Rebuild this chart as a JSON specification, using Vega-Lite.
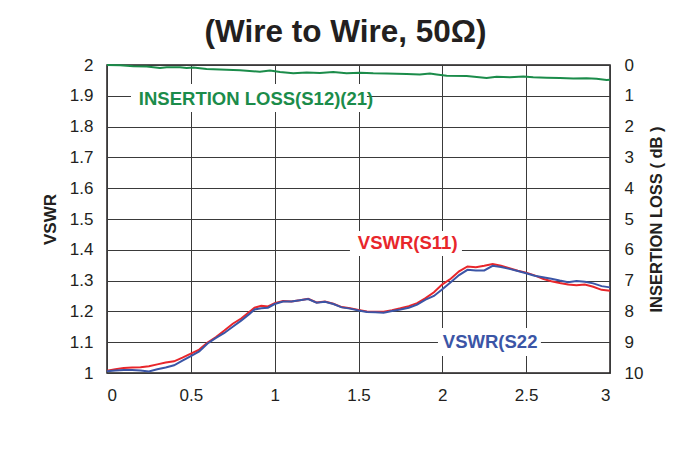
{
  "$schema": "https://vega.github.io/schema/vega-lite/v6.json",
  "width": 503,
  "height": 308,
  "autosize": {"type": "none"},
  "padding": {"left": 107, "top": 65, "right": 77, "bottom": 80},
  "background": "white",
  "title": {"text": "(Wire to Wire, 50Ω)", "font": "Liberation Sans", "fontSize": 31.5, "fontWeight": "bold", "color": "#231f20", "anchor": "middle", "frame": "group", "dx": -13, "offset": 8},
  "config": {
    "view": {"stroke": "#231f20", "strokeWidth": 1.5},
    "axis": {"labelFont": "Liberation Sans", "labelFontSize": 17, "labelColor": "#231f20", "titleFont": "Liberation Sans", "titleFontWeight": "bold", "titleColor": "#231f20", "domain": false, "ticks": false, "gridColor": "#3a3a3a", "gridWidth": 1, "gridOpacity": 1, "labelOverlap": false}
  },
  "datasets": {
    "vswr": [
      {"f":0,"v":1.007,"s":"S11"},{"f":0.05,"v":1.012,"s":"S11"},{"f":0.1,"v":1.016,"s":"S11"},{"f":0.15,"v":1.018,"s":"S11"},{"f":0.2,"v":1.019,"s":"S11"},{"f":0.25,"v":1.022,"s":"S11"},{"f":0.3,"v":1.028,"s":"S11"},{"f":0.35,"v":1.034,"s":"S11"},{"f":0.4,"v":1.038,"s":"S11"},{"f":0.45,"v":1.05,"s":"S11"},{"f":0.5,"v":1.063,"s":"S11"},{"f":0.55,"v":1.076,"s":"S11"},{"f":0.6,"v":1.099,"s":"S11"},{"f":0.65,"v":1.117,"s":"S11"},{"f":0.7,"v":1.138,"s":"S11"},{"f":0.75,"v":1.16,"s":"S11"},{"f":0.8,"v":1.177,"s":"S11"},{"f":0.85,"v":1.199,"s":"S11"},{"f":0.88,"v":1.212,"s":"S11"},{"f":0.92,"v":1.218,"s":"S11"},{"f":0.96,"v":1.216,"s":"S11"},{"f":1.0,"v":1.227,"s":"S11"},{"f":1.05,"v":1.234,"s":"S11"},{"f":1.1,"v":1.232,"s":"S11"},{"f":1.15,"v":1.236,"s":"S11"},{"f":1.2,"v":1.241,"s":"S11"},{"f":1.25,"v":1.229,"s":"S11"},{"f":1.3,"v":1.232,"s":"S11"},{"f":1.35,"v":1.225,"s":"S11"},{"f":1.4,"v":1.214,"s":"S11"},{"f":1.45,"v":1.21,"s":"S11"},{"f":1.5,"v":1.205,"s":"S11"},{"f":1.55,"v":1.2,"s":"S11"},{"f":1.6,"v":1.199,"s":"S11"},{"f":1.65,"v":1.199,"s":"S11"},{"f":1.7,"v":1.204,"s":"S11"},{"f":1.75,"v":1.21,"s":"S11"},{"f":1.8,"v":1.217,"s":"S11"},{"f":1.85,"v":1.227,"s":"S11"},{"f":1.9,"v":1.243,"s":"S11"},{"f":1.95,"v":1.262,"s":"S11"},{"f":2.0,"v":1.288,"s":"S11"},{"f":2.05,"v":1.306,"s":"S11"},{"f":2.1,"v":1.33,"s":"S11"},{"f":2.15,"v":1.346,"s":"S11"},{"f":2.2,"v":1.343,"s":"S11"},{"f":2.25,"v":1.348,"s":"S11"},{"f":2.3,"v":1.354,"s":"S11"},{"f":2.35,"v":1.348,"s":"S11"},{"f":2.4,"v":1.34,"s":"S11"},{"f":2.45,"v":1.332,"s":"S11"},{"f":2.5,"v":1.326,"s":"S11"},{"f":2.55,"v":1.317,"s":"S11"},{"f":2.6,"v":1.306,"s":"S11"},{"f":2.65,"v":1.298,"s":"S11"},{"f":2.7,"v":1.292,"s":"S11"},{"f":2.75,"v":1.287,"s":"S11"},{"f":2.8,"v":1.285,"s":"S11"},{"f":2.85,"v":1.287,"s":"S11"},{"f":2.9,"v":1.28,"s":"S11"},{"f":2.95,"v":1.27,"s":"S11"},{"f":3.0,"v":1.267,"s":"S11"},
      {"f":0,"v":1.006,"s":"S22"},{"f":0.05,"v":1.008,"s":"S22"},{"f":0.1,"v":1.01,"s":"S22"},{"f":0.15,"v":1.01,"s":"S22"},{"f":0.2,"v":1.008,"s":"S22"},{"f":0.25,"v":1.005,"s":"S22"},{"f":0.3,"v":1.012,"s":"S22"},{"f":0.35,"v":1.018,"s":"S22"},{"f":0.4,"v":1.025,"s":"S22"},{"f":0.45,"v":1.04,"s":"S22"},{"f":0.5,"v":1.055,"s":"S22"},{"f":0.55,"v":1.07,"s":"S22"},{"f":0.6,"v":1.096,"s":"S22"},{"f":0.65,"v":1.114,"s":"S22"},{"f":0.7,"v":1.13,"s":"S22"},{"f":0.75,"v":1.15,"s":"S22"},{"f":0.8,"v":1.17,"s":"S22"},{"f":0.85,"v":1.192,"s":"S22"},{"f":0.88,"v":1.206,"s":"S22"},{"f":0.92,"v":1.21,"s":"S22"},{"f":0.96,"v":1.212,"s":"S22"},{"f":1.0,"v":1.224,"s":"S22"},{"f":1.05,"v":1.232,"s":"S22"},{"f":1.1,"v":1.232,"s":"S22"},{"f":1.15,"v":1.236,"s":"S22"},{"f":1.2,"v":1.24,"s":"S22"},{"f":1.25,"v":1.228,"s":"S22"},{"f":1.3,"v":1.231,"s":"S22"},{"f":1.35,"v":1.224,"s":"S22"},{"f":1.4,"v":1.213,"s":"S22"},{"f":1.45,"v":1.209,"s":"S22"},{"f":1.5,"v":1.203,"s":"S22"},{"f":1.55,"v":1.198,"s":"S22"},{"f":1.6,"v":1.197,"s":"S22"},{"f":1.65,"v":1.196,"s":"S22"},{"f":1.7,"v":1.201,"s":"S22"},{"f":1.75,"v":1.206,"s":"S22"},{"f":1.8,"v":1.212,"s":"S22"},{"f":1.85,"v":1.222,"s":"S22"},{"f":1.9,"v":1.238,"s":"S22"},{"f":1.95,"v":1.25,"s":"S22"},{"f":2.0,"v":1.272,"s":"S22"},{"f":2.05,"v":1.295,"s":"S22"},{"f":2.1,"v":1.318,"s":"S22"},{"f":2.15,"v":1.335,"s":"S22"},{"f":2.2,"v":1.333,"s":"S22"},{"f":2.25,"v":1.333,"s":"S22"},{"f":2.3,"v":1.348,"s":"S22"},{"f":2.35,"v":1.344,"s":"S22"},{"f":2.4,"v":1.338,"s":"S22"},{"f":2.45,"v":1.331,"s":"S22"},{"f":2.5,"v":1.324,"s":"S22"},{"f":2.55,"v":1.316,"s":"S22"},{"f":2.6,"v":1.311,"s":"S22"},{"f":2.65,"v":1.306,"s":"S22"},{"f":2.7,"v":1.3,"s":"S22"},{"f":2.75,"v":1.295,"s":"S22"},{"f":2.8,"v":1.299,"s":"S22"},{"f":2.85,"v":1.296,"s":"S22"},{"f":2.9,"v":1.291,"s":"S22"},{"f":2.95,"v":1.282,"s":"S22"},{"f":3.0,"v":1.278,"s":"S22"}
    ],
    "il": [
      {"f":0,"loss":0.0,"s":"IL"},{"f":0.078,"loss":0.01,"s":"IL"},{"f":0.157,"loss":0.04,"s":"IL"},{"f":0.237,"loss":0.05,"s":"IL"},{"f":0.316,"loss":0.1,"s":"IL"},{"f":0.356,"loss":0.07,"s":"IL"},{"f":0.435,"loss":0.07,"s":"IL"},{"f":0.475,"loss":0.1,"s":"IL"},{"f":0.515,"loss":0.08,"s":"IL"},{"f":0.594,"loss":0.13,"s":"IL"},{"f":0.674,"loss":0.15,"s":"IL"},{"f":0.793,"loss":0.17,"s":"IL"},{"f":0.912,"loss":0.22,"s":"IL"},{"f":0.972,"loss":0.18,"s":"IL"},{"f":1.032,"loss":0.23,"s":"IL"},{"f":1.111,"loss":0.27,"s":"IL"},{"f":1.191,"loss":0.24,"s":"IL"},{"f":1.27,"loss":0.26,"s":"IL"},{"f":1.349,"loss":0.23,"s":"IL"},{"f":1.429,"loss":0.27,"s":"IL"},{"f":1.509,"loss":0.25,"s":"IL"},{"f":1.588,"loss":0.27,"s":"IL"},{"f":1.668,"loss":0.28,"s":"IL"},{"f":1.787,"loss":0.29,"s":"IL"},{"f":1.866,"loss":0.31,"s":"IL"},{"f":1.926,"loss":0.28,"s":"IL"},{"f":1.966,"loss":0.31,"s":"IL"},{"f":2.026,"loss":0.35,"s":"IL"},{"f":2.145,"loss":0.36,"s":"IL"},{"f":2.205,"loss":0.39,"s":"IL"},{"f":2.264,"loss":0.42,"s":"IL"},{"f":2.324,"loss":0.38,"s":"IL"},{"f":2.403,"loss":0.4,"s":"IL"},{"f":2.483,"loss":0.37,"s":"IL"},{"f":2.542,"loss":0.4,"s":"IL"},{"f":2.622,"loss":0.41,"s":"IL"},{"f":2.701,"loss":0.42,"s":"IL"},{"f":2.781,"loss":0.44,"s":"IL"},{"f":2.86,"loss":0.43,"s":"IL"},{"f":2.92,"loss":0.45,"s":"IL"},{"f":2.98,"loss":0.49,"s":"IL"},{"f":3.0,"loss":0.48,"s":"IL"}
    ],
    "labels": [
      {"text":"INSERTION LOSS(S12)(21)","s":"IL","f":0.19,"v":1.89},
      {"text":"VSWR(S11)","s":"S11","f":1.496,"v":1.422},
      {"text":"VSWR(S22","s":"S22","f":2.003,"v":1.1}
    ],
    "boxes": [
      {"f1":0.143,"f2":1.55,"v1":1.847,"v2":1.938},
      {"f1":1.449,"f2":2.117,"v1":1.38,"v2":1.461},
      {"f1":1.974,"f2":2.588,"v1":1.055,"v2":1.146}
    ]
  },
  "layer": [
    {
      "layer": [
        {
          "data": {"name": "boxes"},
          "mark": {"type": "rect", "fill": "white", "stroke": null},
          "encoding": {
            "x": {"field": "f1", "type": "quantitative", "scale": {"domain": [0, 3]}, "axis": {"values": [0,0.5,1,1.5,2,2.5,3], "format": "~g", "grid": true, "labelPadding": 14, "title": null}},
            "x2": {"field": "f2"},
            "y": {"field": "v1", "type": "quantitative", "scale": {"domain": [1, 2]}, "axis": {"orient": "left", "values": [1,1.1,1.2,1.3,1.4,1.5,1.6,1.7,1.8,1.9,2], "format": "~g", "grid": true, "labelPadding": 14, "title": "VSWR", "titleFontSize": 17, "titlePadding": 10}},
            "y2": {"field": "v2"}
          }
        },
        {
          "data": {"name": "vswr"},
          "mark": {"type": "line", "strokeWidth": 2},
          "encoding": {
            "x": {"field": "f", "type": "quantitative", "scale": {"domain": [0, 3]}, "axis": {"values": [0,0.5,1,1.5,2,2.5,3], "format": "~g", "grid": true, "labelPadding": 14, "title": null}},
            "y": {"field": "v", "type": "quantitative", "scale": {"domain": [1, 2]}, "axis": {"orient": "left", "values": [1,1.1,1.2,1.3,1.4,1.5,1.6,1.7,1.8,1.9,2], "format": "~g", "grid": true, "labelPadding": 14, "title": "VSWR", "titleFontSize": 17, "titlePadding": 10}},
            "color": {"field": "s", "type": "nominal", "scale": {"domain": ["S11","S22","IL"], "range": ["#e8262b","#3b55a6","#1b8c4a"]}, "legend": null},
            "order": {"field": "f", "type": "quantitative"}
          }
        },
        {
          "data": {"name": "labels"},
          "mark": {"type": "text", "align": "left", "baseline": "middle", "font": "Liberation Sans", "fontSize": 18.5, "fontWeight": "bold"},
          "encoding": {
            "x": {"field": "f", "type": "quantitative", "scale": {"domain": [0, 3]}, "axis": {"values": [0,0.5,1,1.5,2,2.5,3], "format": "~g", "grid": true, "labelPadding": 14, "title": null}},
            "y": {"field": "v", "type": "quantitative", "scale": {"domain": [1, 2]}, "axis": {"orient": "left", "values": [1,1.1,1.2,1.3,1.4,1.5,1.6,1.7,1.8,1.9,2], "format": "~g", "grid": true, "labelPadding": 14, "title": "VSWR", "titleFontSize": 17, "titlePadding": 10}},
            "text": {"field": "text"},
            "color": {"field": "s", "type": "nominal", "legend": null}
          }
        }
      ]
    },
    {
      "data": {"name": "il"},
      "mark": {"type": "line", "strokeWidth": 2},
      "encoding": {
        "x": {"field": "f", "type": "quantitative", "scale": {"domain": [0, 3]}, "axis": {"values": [0,0.5,1,1.5,2,2.5,3], "format": "~g", "grid": true, "labelPadding": 14, "title": null}},
        "y": {"field": "loss", "type": "quantitative", "scale": {"domain": [0, 10], "reverse": true}, "axis": {"orient": "right", "values": [0,1,2,3,4,5,6,7,8,9,10], "grid": false, "labelPadding": 14, "title": "INSERTION LOSS ( dB )", "titleFontSize": 16.5, "titleAngle": 270, "titlePadding": 22}},
        "color": {"field": "s", "type": "nominal", "legend": null}
      }
    }
  ],
  "resolve": {"scale": {"y": "independent"}}
}
